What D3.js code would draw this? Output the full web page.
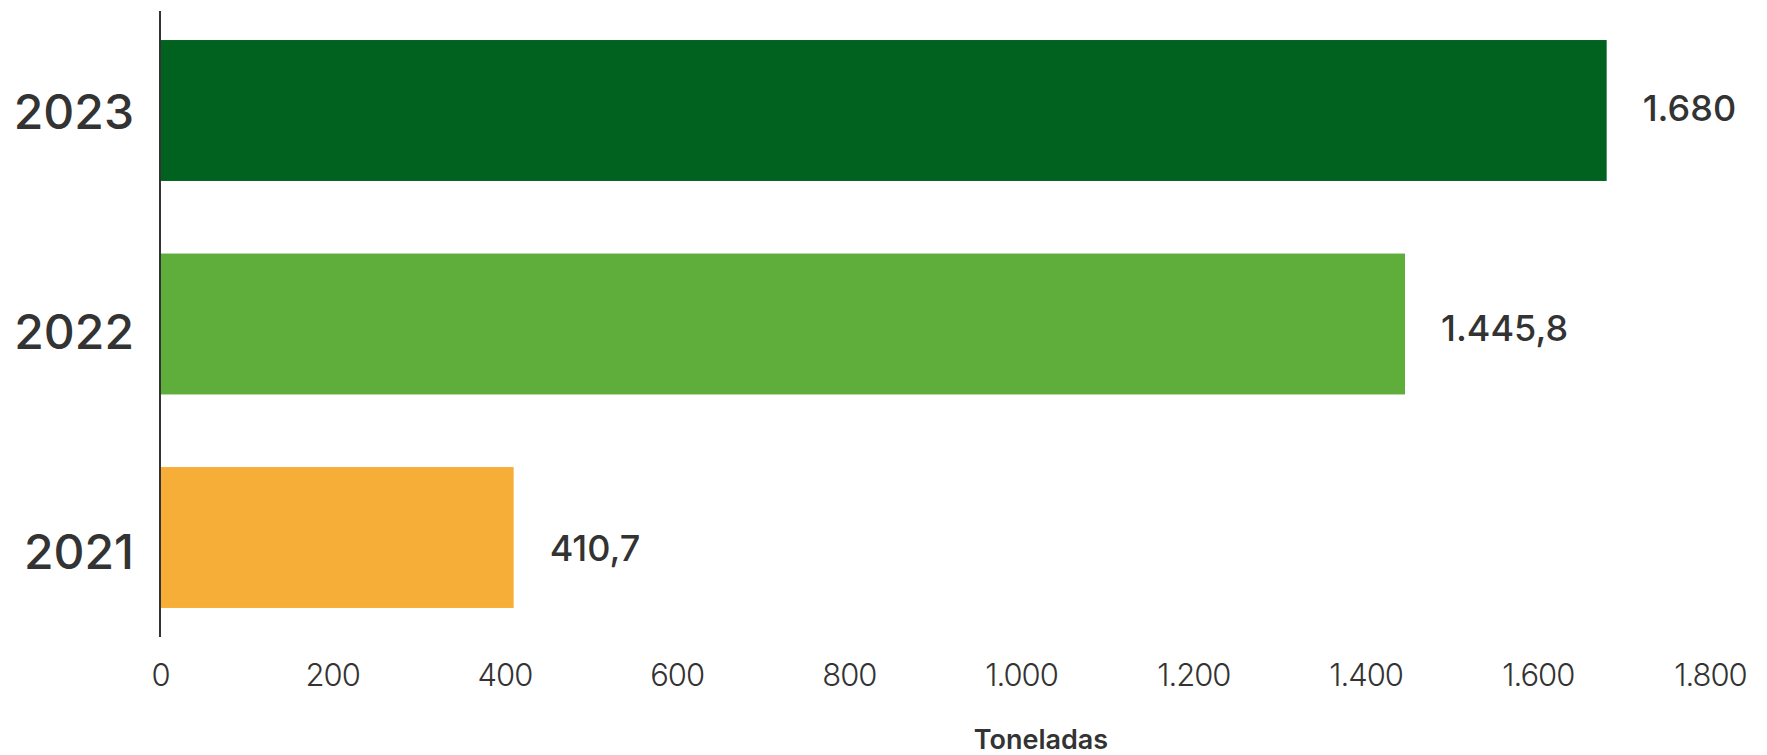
<!DOCTYPE html>
<html>
<head>
<meta charset="utf-8">
<script src="https://cdn.jsdelivr.net/npm/d3@7"></script>
<style>
  html, body { margin: 0; padding: 0; background: #ffffff; }
  svg { display: block; }
</style>
</head>
<body>
<svg id="chart" width="1767" height="755"></svg>
<script>
const years = ["2023", "2022", "2021"];
const values = [1680, 1445.8, 410.7];
const colors = ["#01611f", "#5fad3b", "#f7ae38"];
const tickValues = [0, 200, 400, 600, 800, 1000, 1200, 1400, 1600, 1800];
const axisTitle = "Toneladas";

const W = 1767, H = 755;
const svg = d3.select("#chart");
const fontFamily = "Inter, 'Noto Sans', sans-serif";
const textColor = "#333333";

const locale = d3.formatLocale({ decimal: ",", thousands: ".", grouping: [3], currency: ["", ""] });
const fmtValue = locale.format(",.1~f");
const fmtTick = locale.format(",.0f");

const x = d3.scaleLinear().domain([0, 1800]).range([160, 1710]);
const y = d3.scaleBand().domain(years).range([11, 637]).paddingInner(0.34).paddingOuter(0.136);
// label rows (text baseline centres, slightly spread relative to the bars as in the source)
const yLabel = d3.scalePoint().domain(years).range([111, 551]);

// bars
svg.append("g").selectAll("rect")
  .data(years)
  .join("rect")
  .attr("x", x(0))
  .attr("y", d => y(d))
  .attr("width", (d, i) => x(values[i]) - x(0))
  .attr("height", y.bandwidth())
  .attr("fill", (d, i) => colors[i]);

// value labels
svg.append("g").selectAll("text")
  .data(years)
  .join("text")
  .attr("x", (d, i) => x(values[i]) + 36)
  .attr("y", d => yLabel(d))
  .attr("dominant-baseline", "middle")
  .attr("font-family", fontFamily)
  .attr("font-size", 36)
  .attr("font-weight", 500)
  .attr("fill", textColor)
  .text((d, i) => fmtValue(values[i]));

// y axis line
svg.append("line")
  .attr("x1", x(0)).attr("x2", x(0))
  .attr("y1", 11).attr("y2", 637)
  .attr("stroke", "#333").attr("stroke-width", 2);

// y axis labels
const yAxis = svg.append("g")
  .attr("transform", `translate(${x(0)},0)`)
  .call(d3.axisLeft(yLabel).tickSize(0).tickPadding(26));
yAxis.select(".domain").remove();
yAxis.selectAll("text")
  .attr("font-family", fontFamily)
  .attr("font-size", 48)
  .attr("font-weight", 500)
  .attr("fill", textColor)
  .attr("dy", "0.36em");

// x axis (labels only)
const xAxis = svg.append("g")
  .attr("transform", "translate(0,664)")
  .call(d3.axisBottom(x).tickValues(tickValues).tickSize(0).tickPadding(0).tickFormat(fmtTick));
xAxis.select(".domain").remove();
xAxis.selectAll("text")
  .attr("font-family", fontFamily)
  .attr("font-size", 31)
  .attr("font-weight", 300)
  .attr("letter-spacing", "-1px")
  .attr("fill", "#333");

// axis title
svg.append("text")
  .attr("x", 1041)
  .attr("y", 742)
  .attr("text-anchor", "middle")
  .attr("dominant-baseline", "middle")
  .attr("font-family", fontFamily)
  .attr("font-size", 27)
  .attr("font-weight", 600)
  .attr("fill", textColor)
  .text(axisTitle);
</script>
</body>
</html>
